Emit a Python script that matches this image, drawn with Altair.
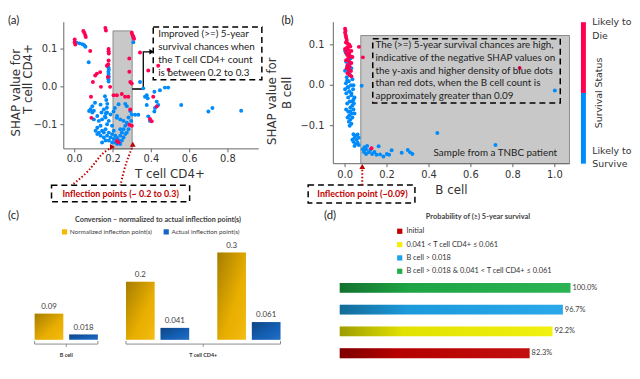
import altair as alt
import pandas as pd

W, H = 632, 371
RED, BLUE = "#ff0052", "#008bfb"
DRED = "#c00000"
AX = "#666666"
TXT = "#333333"
FONT = "DejaVu Sans"
ANN = "Lato"

# ---------------- panel (a) data: SHAP value vs T cell CD4+ ----------------
a_die = [(0.0, 0.125), (0.0, 0.118), (0.003, 0.112), (0.045, 0.148), (0.05, 0.143), (0.055, 0.137),
         (0.058, 0.132), (0.081, 0.095), (0.16, 0.156), (0.163, 0.149), (0.177, 0.1), (0.177, 0.094),
         (0.178, 0.088), (0.177, 0.07), (0.175, 0.06), (0.133, 0.039), (0.116, 0.035), (0.107, 0.03),
         (0.137, 0.0), (0.185, 0.0), (0.095, 0.013), (0.168, 0.056), (0.173, 0.026), (0.085, -0.026),
         (0.087, -0.082), (0.203, -0.022), (0.22, -0.022), (0.246, -0.019), (0.263, -0.026), (0.28, -0.026),
         (0.298, 0.143), (0.301, 0.138), (0.306, 0.133), (0.31, 0.127), (0.285, 0.075), (0.285, 0.04),
         (0.29, 0.013), (0.298, 0.009), (0.341, 0.091), (0.384, 0.043), (0.436, 0.056), (0.49, 0.045),
         (0.41, -0.026), (0.428, -0.052), (0.402, -0.091), (0.393, -0.085), (0.22, -0.143), (0.229, -0.147),
         (0.285, -0.1), (0.298, -0.103), (0.29, -0.06)]
a_survive = [(0.01, 0.117), (0.025, 0.115), (0.04, 0.113), (0.05, 0.11), (0.056, 0.106), (0.073, 0.065),
             (0.176, 0.052), (0.178, 0.046), (0.176, 0.04), (0.177, 0.034), (0.178, 0.027), (0.176, 0.02),
             (0.177, 0.014), (0.306, 0.13), (0.306, 0.118), (0.158, -0.025), (0.165, -0.035), (0.17, -0.045),
             (0.168, -0.055), (0.163, -0.07), (0.158, -0.078), (0.21, -0.056), (0.203, -0.065), (0.22, -0.082),
             (0.229, -0.046), (0.264, -0.045), (0.272, -0.051), (0.341, 0.013), (0.358, -0.004), (0.376, -0.022),
             (0.367, -0.026), (0.381, -0.03), (0.376, -0.048), (0.416, -0.013), (0.445, -0.009), (0.471, -0.002),
             (0.488, -0.002), (0.428, -0.039), (0.436, -0.048), (0.419, -0.056), (0.416, -0.065), (0.384, -0.078),
             (0.393, -0.09), (0.315, -0.074), (0.332, -0.074), (0.556, -0.048), (0.698, -0.065), (0.719, -0.056),
             (0.869, -0.063), (0.083, -0.059), (0.1, -0.063),
             (0.092, -0.051), (0.106, -0.042), (0.135, -0.047), (0.152, -0.06), (0.14, -0.068), (0.118, -0.077),
             (0.1, -0.086), (0.126, -0.09), (0.143, -0.086), (0.161, -0.081), (0.178, -0.09), (0.169, -0.099),
             (0.135, -0.103), (0.118, -0.108), (0.109, -0.116), (0.126, -0.121), (0.143, -0.116), (0.161, -0.112),
             (0.178, -0.121), (0.135, -0.129), (0.152, -0.134), (0.169, -0.129), (0.187, -0.134), (0.195, -0.125),
             (0.204, -0.138), (0.212, -0.129), (0.221, -0.135), (0.229, -0.141), (0.238, -0.129), (0.246, -0.121),
             (0.255, -0.112), (0.264, -0.103), (0.272, -0.095), (0.281, -0.081), (0.255, -0.134), (0.264, -0.125),
             (0.246, -0.142), (0.212, -0.147), (0.195, -0.147), (0.178, -0.142), (0.204, -0.116), (0.195, -0.103),
             (0.238, -0.112), (0.29, -0.064), (0.298, -0.073), (0.295, -0.09), (0.075, -0.064), (0.092, -0.068),
             (0.169, -0.068), (0.187, -0.073), (0.221, -0.077), (0.238, -0.086), (0.255, -0.09), (0.152, -0.121),
             (0.118, -0.125), (0.161, -0.142), (0.143, -0.147), (0.272, -0.121), (0.281, -0.112), (0.221, -0.151),
             (0.238, -0.151)]
a_xticks = [0.0, 0.2, 0.4, 0.6, 0.8]
a_yticks = [-0.1, 0.0, 0.1]

# ---------------- panel (b) data: SHAP value vs B cell ----------------
b_die = [(0.0, 0.14), (0.002, 0.135), (0.0, 0.13), (0.003, 0.124), (0.005, 0.118), (0.008, 0.112),
         (0.004, 0.106), (0.012, 0.104), (0.02, 0.1), (0.025, 0.096), (0.01, 0.094), (0.0, 0.09),
         (0.015, 0.088), (0.03, 0.085), (0.005, 0.082), (0.02, 0.08), (0.01, 0.075), (0.025, 0.072),
         (0.035, 0.07), (0.015, 0.066), (0.005, 0.062), (0.02, 0.058), (0.03, 0.055), (0.012, 0.05),
         (0.022, 0.046), (0.008, 0.042), (0.018, 0.038), (0.028, 0.035), (0.012, 0.03), (0.02, 0.026),
         (0.03, 0.022), (0.066, 0.095), (0.085, 0.069), (0.126, -0.156), (0.832, 0.043)]
b_survive = [(0.0, 0.085), (0.004, 0.08), (0.018, 0.074), (0.026, 0.066), (0.005, 0.058), (0.02, 0.052),
             (0.01, 0.047), (0.03, 0.042), (0.0, 0.036), (0.015, 0.031), (0.025, 0.025), (0.008, 0.02),
             (0.035, 0.015), (0.018, 0.01), (0.004, 0.005), (0.028, 0.0), (0.012, -0.005), (0.038, -0.01),
             (0.02, -0.015), (0.006, -0.02), (0.03, -0.025), (0.015, -0.03), (0.04, -0.035), (0.022, -0.04),
             (0.01, -0.045), (0.035, -0.05), (0.025, -0.055), (0.04, -0.06), (0.015, -0.065), (0.03, -0.07),
             (0.02, -0.075), (0.035, -0.08), (0.025, -0.085), (0.018, -0.09), (0.03, -0.095), (0.022, -0.1),
             (0.005, -0.06), (0.035, -0.04), (0.03, -0.02), (0.04, 0.0), (0.012, -0.08), (0.042, -0.045),
             (0.045, -0.03), (0.045, -0.07), (0.0, -0.01), (0.01, 0.012), (0.025, -0.065), (0.015, -0.005),
             (0.04, -0.121), (0.05, -0.125), (0.06, -0.122), (0.045, -0.13), (0.055, -0.135), (0.065, -0.13),
             (0.04, -0.14), (0.05, -0.145), (0.06, -0.142), (0.035, -0.135), (0.065, -0.148), (0.045, -0.15),
             (0.093, -0.153), (0.1, -0.159), (0.113, -0.166), (0.129, -0.17), (0.16, -0.151), (0.167, -0.171),
             (0.183, -0.176), (0.199, -0.17), (0.21, -0.172), (0.222, -0.161), (0.27, -0.167), (0.299, -0.16),
             (0.31, -0.166), (0.321, -0.17), (0.085, -0.158), (0.09, -0.165), (0.1, -0.17), (0.12, -0.16),
             (0.14, -0.165), (0.15, -0.172), (0.105, -0.15), (0.44, -0.118), (0.717, -0.148), (1.0, -0.013),
             (0.079, -0.001)]
b_xticks = [0.0, 0.2, 0.4, 0.6, 0.8, 1.0]
b_yticks = [-0.1, 0.0, 0.1]

status_names = ["Likely to Die", "Likely to Survive"]

# ---------------- panel (c) data ----------------
c_groups = ["B cell", "T cell CD4+ (lower)", "T cell CD4+ (upper)"]
c_types = ["Normalized inflection point(s)", "Actual inflection point(s)"]
c_normalized = [0.09, 0.2, 0.3]
c_actual = [0.018, 0.041, 0.061]
c_norm_labels = ["0.09", "0.2", "0.3"]
c_act_labels = ["0.018", "0.041", "0.061"]

# ---------------- panel (d) data ----------------
d_categories = ["Initial", "0.041 < T cell CD4+ ≤ 0.061", "B cell > 0.018",
                "B cell > 0.018 & 0.041 < T cell CD4+ ≤ 0.061"]
d_values = [82.3, 92.2, 96.7, 100.0]
d_labels = ["82.3%", "92.2%", "96.7%", "100.0%"]
d_colors = ["#c00000", "#f0f000", "#1ea3e8", "#1fae48"]


def pts_df(die, surv):
    rows = [{"x": x, "y": y, "status": status_names[1]} for x, y in surv]
    rows += [{"x": x, "y": y, "status": status_names[0]} for x, y in die]
    return pd.DataFrame(rows)


def XQ(field, sx):
    return alt.X(field, scale=sx, axis=None)


def YQ(field, sy):
    return alt.Y(field, scale=sy, axis=None)


def rect_layer(df, sx, sy, **mk):
    return alt.Chart(df).mark_rect(**mk).encode(
        x=XQ("x0:Q", sx), x2="x1:Q", y=YQ("y0:Q", sy), y2="y1:Q")


def text_layer(df, sx, sy, **mk):
    return alt.Chart(df).mark_text(**mk).encode(x=XQ("x:Q", sx), y=YQ("y:Q", sy), text="t:N")


def axes(sx, sy, xdom, ydom, xticks, yticks, xtitle, ytitles, xlab_off, ylab_off, xtitle_dx, xtitle_off,
         ytitle_pos):
    """Spines, ticks, tick labels and titles drawn through the panel's own scales."""
    x0, x1 = xdom
    y0, y1 = ydom
    spine_b = alt.Chart(pd.DataFrame({"a": [x0], "b": [x1], "y": [y0]})).mark_rule(
        color=AX, strokeWidth=1).encode(x=XQ("a:Q", sx), x2="b:Q", y=YQ("y:Q", sy))
    spine_l = alt.Chart(pd.DataFrame({"x": [x0], "a": [y0], "b": [y1]})).mark_rule(
        color=AX, strokeWidth=1).encode(x=XQ("x:Q", sx), y=YQ("a:Q", sy), y2="b:Q")
    dfx = pd.DataFrame({"v": xticks, "y": [y0] * len(xticks)})
    dfy = pd.DataFrame({"v": yticks, "x": [x0] * len(yticks)})
    tick_x = alt.Chart(dfx).mark_rule(color=AX, strokeWidth=1, y2Offset=3.5).encode(
        x=XQ("v:Q", sx), y=YQ("y:Q", sy), y2="y:Q")
    tick_y = alt.Chart(dfy).mark_rule(color=AX, strokeWidth=1, x2Offset=-3.5).encode(
        y=YQ("v:Q", sy), x=XQ("x:Q", sx), x2="x:Q")
    lab_x = alt.Chart(dfx).mark_text(font=FONT, fontSize=10, color=TXT, baseline="middle",
                                     align="center", yOffset=xlab_off).encode(
        x=XQ("v:Q", sx), y=YQ("y:Q", sy), text=alt.Text("v:Q", format=".1f"))
    lab_y = alt.Chart(dfy).mark_text(font=FONT, fontSize=10, color=TXT, baseline="middle",
                                     align="right", xOffset=ylab_off).encode(
        x=XQ("x:Q", sx), y=YQ("v:Q", sy), text=alt.Text("v:Q", format=".1f"))
    t_x = alt.Chart(pd.DataFrame({"x": [(x0 + x1) / 2], "y": [y0], "t": [xtitle]})).mark_text(
        font=FONT, fontSize=12, color=TXT, baseline="middle", align="center", xOffset=xtitle_dx,
        yOffset=xtitle_off).encode(x=XQ("x:Q", sx), y=YQ("y:Q", sy), text="t:N")
    layers = [spine_b, spine_l, tick_x, tick_y, lab_x, lab_y, t_x]
    for line, (dx, dy) in zip(ytitles, ytitle_pos):
        layers.append(alt.Chart(pd.DataFrame({"x": [x0], "y": [(y0 + y1) / 2], "t": [line]})).mark_text(
            font=FONT, fontSize=12, color=TXT, baseline="middle", align="center", angle=270,
            xOffset=dx, yOffset=dy).encode(x=XQ("x:Q", sx), y=YQ("y:Q", sy), text="t:N"))
    return layers


status_color = alt.Scale(domain=status_names, range=[RED, BLUE])

# ======================= panel (a) =======================
a_xdom, a_ydom = [-0.057, 0.961], [-0.164, 0.171]
sxa = alt.Scale(domain=a_xdom, range=[56.5, 254], nice=False, zero=False)
sya = alt.Scale(domain=a_ydom, range=[140.3, 12], nice=False, zero=False)

a_gray = rect_layer(pd.DataFrame({"x0": [0.2], "x1": [0.3], "y0": [-0.164], "y1": [0.148]}), sxa, sya,
                    fill="#c8c8c8", stroke="#8a8a8a", strokeWidth=1)
a_box = rect_layer(pd.DataFrame({"x0": [0.41], "x1": [0.977], "y0": [0.0188], "y1": [0.158]}), sxa, sya,
                   fill="white", stroke="black", strokeWidth=1.5, strokeDash=[6, 4])
a_bracket = alt.Chart(pd.DataFrame({"x": [0.3, 0.358, 0.358, 0.402], "y": [-0.0057, -0.0057, 0.0927, 0.0927],
                                    "i": [0, 1, 2, 3]})).mark_line(color="black", strokeWidth=1.3).encode(
    x=XQ("x:Q", sxa), y=YQ("y:Q", sya), order="i:O")
a_bracket_head = alt.Chart(pd.DataFrame({"x": [0.402], "y": [0.0927]})).mark_point(
    shape="triangle-right", filled=True, color="black", size=30, opacity=1).encode(
    x=XQ("x:Q", sxa), y=YQ("y:Q", sya))
a_points = alt.Chart(pts_df(a_die, a_survive)).mark_circle(size=16, opacity=1).encode(
    x=XQ("x:Q", sxa), y=YQ("y:Q", sya),
    color=alt.Color("status:N", scale=status_color, legend=None))
a_text = text_layer(pd.DataFrame({
    "x": [0.436] * 4, "y": [0.139, 0.104, 0.071, 0.036],
    "t": ["Improved (>=) 5-year", "survival chances when", "the T cell CD4+ count", "is between  0.2 to 0.3"]}),
    sxa, sya, align="left", baseline="middle", font=ANN, fontSize=10, color="#222222")
a_arrows = alt.Chart(pd.DataFrame({
    "arrow": [1, 1, 1, 1, 1, 2, 2, 2, 2, 2],
    "i": [0, 1, 2, 3, 4, 0, 1, 2, 3, 4],
    "x": [-0.02, 0.064, 0.109, 0.142, 0.19, 0.238, 0.255, 0.272, 0.295, 0.302],
    "y": [-0.262, -0.228, -0.199, -0.176, -0.161, -0.262, -0.225, -0.195, -0.168, -0.156]})).mark_line(
    color=DRED, strokeWidth=2, strokeDash=[1.5, 2], interpolate="basis").encode(
    x=XQ("x:Q", sxa), y=YQ("y:Q", sya), detail="arrow:N", order="i:O")
a_heads = alt.Chart(pd.DataFrame({"x": [0.197, 0.303], "y": [-0.159, -0.152],
                                  "shape": ["triangle-right", "triangle-up"]})).mark_point(
    filled=True, color=DRED, size=35, opacity=1).encode(
    x=XQ("x:Q", sxa), y=YQ("y:Q", sya), shape=alt.Shape("shape:N", scale=None))
a_infl_box = rect_layer(pd.DataFrame({"x0": [-0.121], "x1": [0.6], "y0": [-0.304], "y1": [-0.26]}), sxa, sya,
                        fill="white", stroke="black", strokeWidth=1.5, strokeDash=[6, 4])
a_infl_text = text_layer(pd.DataFrame({"x": [0.24], "y": [-0.283], "t": ["Inflection points (~ 0.2 to 0.3)"]}),
                         sxa, sya, align="center", baseline="middle", font=ANN, fontSize=9,
                         fontWeight="bold", color=DRED)
a_axes = axes(sxa, sya, a_xdom, a_ydom, a_xticks, a_yticks, "T cell CD4+", ["SHAP value for", "T cell CD4+"],
              xlab_off=10.2, ylab_off=-6.5, xtitle_dx=8.7, xtitle_off=26,
              ytitle_pos=[(-48.5, 7.3), (-36.5, -6.6)])

panel_a = alt.layer(a_gray, a_box, a_bracket, a_bracket_head, *a_axes, a_points, a_text,
                    a_arrows, a_heads, a_infl_box, a_infl_text)

# ======================= panel (b) =======================
b_xdom, b_ydom = [-0.056, 1.07], [-0.194, 0.156]
sxb = alt.Scale(domain=b_xdom, range=[329.5, 568.7], nice=False, zero=False)
syb = alt.Scale(domain=b_ydom, range=[155.3, 12], nice=False, zero=False)

b_gray = rect_layer(pd.DataFrame({"x0": [0.075], "x1": [1.07], "y0": [-0.194], "y1": [0.123]}), sxb, syb,
                    fill="#c8c8c8", stroke="#8a8a8a", strokeWidth=1)
b_box = rect_layer(pd.DataFrame({"x0": [0.132], "x1": [1.026], "y0": [-0.0437], "y1": [0.115]}), sxb, syb,
                   fillOpacity=0, stroke="black", strokeWidth=1.5, strokeDash=[6, 4])
b_points = alt.Chart(pts_df(b_die, b_survive)).mark_circle(size=16, opacity=1).encode(
    x=XQ("x:Q", sxb), y=YQ("y:Q", syb),
    color=alt.Color("status:N", scale=status_color, legend=None))
b_text = text_layer(pd.DataFrame({
    "x": [0.145] * 5, "y": [0.0988, 0.0678, 0.0361, 0.0044, -0.0273],
    "t": ["The (>=) 5-year survival chances are high,", "indicative of the negative SHAP values on",
          "the y-axis and higher density of blue dots", "than red dots, when the B cell count is",
          "approximately greater than 0.09"]}),
    sxb, syb, align="left", baseline="middle", font=ANN, fontSize=10, color="#222222")
b_sample = text_layer(pd.DataFrame({"x": [0.422], "y": [-0.167], "t": ["Sample from a TNBC patient"]}),
                      sxb, syb, align="left", baseline="middle", font=ANN, fontSize=10, color="#222222")
b_arrow = alt.Chart(pd.DataFrame({"x": [0.082, 0.082], "y": [-0.247, -0.205], "i": [0, 1]})).mark_line(
    color=DRED, strokeWidth=2, strokeDash=[1.5, 2]).encode(
    x=XQ("x:Q", sxb), y=YQ("y:Q", syb), order="i:O")
b_head = alt.Chart(pd.DataFrame({"x": [0.082], "y": [-0.201]})).mark_point(
    shape="triangle-up", filled=True, color=DRED, size=35, opacity=1).encode(
    x=XQ("x:Q", sxb), y=YQ("y:Q", syb))
b_infl_box = rect_layer(pd.DataFrame({"x0": [-0.176], "x1": [0.333], "y0": [-0.291], "y1": [-0.247]}), sxb, syb,
                        fill="white", stroke="black", strokeWidth=1.5, strokeDash=[6, 4])
b_infl_text = text_layer(pd.DataFrame({"x": [0.083], "y": [-0.27], "t": ["Inflection point (~0.09)"]}),
                         sxb, syb, align="center", baseline="middle", font=ANN, fontSize=9,
                         fontWeight="bold", color=DRED)
b_axes = axes(sxb, syb, b_xdom, b_ydom, b_xticks, b_yticks, "B cell", ["SHAP value for", "B cell"],
              xlab_off=11.7, ylab_off=-9, xtitle_dx=0, xtitle_off=26.7,
              ytitle_pos=[(-62, 8.3), (-47, 0)])

panel_b = alt.layer(b_gray, b_box, *b_axes, b_points, b_text, b_sample, b_infl_box, b_arrow, b_head,
                    b_infl_text)

# ======================= colour bar =======================
sxcb = alt.Scale(domain=[0, 1], range=[580.3, 585.3], nice=False, zero=False)
sycb = alt.Scale(domain=[0, 1], range=[155.3, 12], nice=False, zero=False)
cb_rect = alt.Chart(pd.DataFrame({"x0": [0, 0], "x1": [1, 1], "y0": [0, 0.5], "y1": [0.5, 1],
                                  "status": [status_names[1], status_names[0]]})).mark_rect().encode(
    x=XQ("x0:Q", sxcb), x2="x1:Q", y=YQ("y0:Q", sycb), y2="y1:Q",
    color=alt.Color("status:N", scale=status_color, legend=None))
cb_text = text_layer(pd.DataFrame({"x": [2.3, 2.3, 2.3, 2.3], "y": [1.0, 0.9, 0.09, -0.005],
                                   "t": ["Likely to", "Die", "Likely to", "Survive"]}),
                     sxcb, sycb, align="left", baseline="middle", font=FONT, fontSize=9.5, color=TXT)
cb_title = text_layer(pd.DataFrame({"x": [3.6], "y": [0.5], "t": ["Survival Status"]}),
                      sxcb, sycb, align="center", baseline="middle", angle=270, font=FONT,
                      fontSize=9.5, color=TXT)
panel_cb = alt.layer(cb_rect, cb_text, cb_title)

# ======================= panel (c) =======================
sxc = alt.Scale(domain=c_groups, range=[12.75, 290.25], paddingInner=0.308, paddingOuter=0.154)
sxoc = alt.Scale(domain=c_types, paddingInner=0.17, paddingOuter=0)
syc = alt.Scale(domain=[0, 0.3], range=[333.7, 245.3], nice=False, zero=False)
GAP_HALF = 14.25  # half of the gap between the two T cell groups, in px

dfc = pd.DataFrame({
    "group": c_groups + c_groups,
    "type": [c_types[0]] * 3 + [c_types[1]] * 3,
    "value": c_normalized + c_actual,
    "label": c_norm_labels + c_act_labels})

c_enc = dict(x=alt.X("group:N", scale=sxc, axis=None),
             xOffset=alt.XOffset("type:N", scale=sxoc),
             y=alt.Y("value:Q", scale=syc, axis=None))
c_bars = alt.Chart(dfc).mark_bar().encode(
    color=alt.Color("type:N", scale=alt.Scale(domain=c_types, range=["#f5b800", "#1565c0"]),
                    legend=alt.Legend(orient="none", legendX=54, legendY=221, direction="horizontal",
                                      title=None, symbolType="square", symbolSize=28, symbolStrokeWidth=0,
                                      labelFont=ANN, labelFontSize=6.5, labelColor="#404040",
                                      columnPadding=11, labelOffset=2, padding=0)),
    **c_enc)
c_shade = alt.Chart(dfc).mark_bar(fill=alt.Gradient(
    gradient="linear", x1=0, y1=0, x2=1, y2=1,
    stops=[alt.GradientStop(color="rgba(0,0,0,0.32)", offset=0),
           alt.GradientStop(color="rgba(0,0,0,0.05)", offset=0.6),
           alt.GradientStop(color="rgba(255,255,255,0.08)", offset=1)])).encode(**c_enc)
c_vals = alt.Chart(dfc).mark_text(dy=-7, font=ANN, fontSize=8, color="#404040", baseline="middle").encode(
    text="label:N", **c_enc)

dfcb = pd.DataFrame({"g0": [c_groups[0], c_groups[1]], "g1": [c_groups[0], c_groups[2]]})
c_hline = alt.Chart(dfcb).mark_rule(color="#8c8c8c", strokeWidth=1).encode(
    x=alt.X("g0:N", scale=sxc, bandPosition=0, axis=None), x2=alt.X2("g1:N", bandPosition=1),
    y=alt.datum(-0.0146))
c_ltick = alt.Chart(dfcb).mark_rule(color="#8c8c8c", strokeWidth=1).encode(
    x=alt.X("g0:N", scale=sxc, bandPosition=0, axis=None), y=alt.datum(-0.004), y2=alt.datum(-0.0146))
c_rtick = alt.Chart(dfcb).mark_rule(color="#8c8c8c", strokeWidth=1).encode(
    x=alt.X("g1:N", scale=sxc, bandPosition=1, axis=None), y=alt.datum(-0.004), y2=alt.datum(-0.0146))
dfb_mid = pd.DataFrame({"g": [c_groups[0]], "t": ["B cell"]})
dft_mid = pd.DataFrame({"g": [c_groups[1]], "t": ["T cell CD4+"]})
c_mid_b = alt.Chart(dfb_mid).mark_rule(color="#8c8c8c", strokeWidth=1).encode(
    x=alt.X("g:N", scale=sxc, bandPosition=0.5, axis=None), y=alt.datum(-0.0146), y2=alt.datum(-0.024))
c_mid_t = alt.Chart(dft_mid).mark_rule(color="#8c8c8c", strokeWidth=1, xOffset=GAP_HALF).encode(
    x=alt.X("g:N", scale=sxc, bandPosition=1, axis=None), y=alt.datum(-0.0146), y2=alt.datum(-0.024))
c_lab_b = alt.Chart(dfb_mid).mark_text(font=ANN, fontSize=5.5, fontWeight="bold", color="#333333").encode(
    x=alt.X("g:N", scale=sxc, bandPosition=0.5, axis=None), y=alt.datum(-0.052), text="t:N")
c_lab_t = alt.Chart(dft_mid).mark_text(font=ANN, fontSize=5.5, fontWeight="bold", color="#333333",
                                       xOffset=GAP_HALF).encode(
    x=alt.X("g:N", scale=sxc, bandPosition=1, axis=None), y=alt.datum(-0.052), text="t:N")

panel_c = alt.layer(c_bars, c_shade, c_vals, c_hline, c_ltick, c_rtick, c_mid_b, c_mid_t, c_lab_b, c_lab_t)

# ======================= panel (d) =======================
sxd = alt.Scale(domain=[0, 100], range=[336, 569.7], nice=False, zero=False)
syd = alt.Scale(domain=list(reversed(d_categories)), range=[269.95, 358.35], paddingInner=0.55,
                paddingOuter=0.275)
dfd = pd.DataFrame({"cat": d_categories, "value": d_values, "label": d_labels})
d_enc = dict(x=alt.X("value:Q", scale=sxd, axis=None), y=alt.Y("cat:N", scale=syd, axis=None))
d_bars = alt.Chart(dfd).mark_bar().encode(
    color=alt.Color("cat:N", scale=alt.Scale(domain=d_categories, range=d_colors),
                    legend=alt.Legend(orient="none", legendX=393, legendY=220, direction="vertical",
                                      title=None, symbolType="square", symbolSize=28, symbolStrokeWidth=0,
                                      labelFont=ANN, labelFontSize=7.5, labelColor="#333333",
                                      rowPadding=4.5, labelOffset=3, padding=0, labelLimit=400)),
    **d_enc)
d_shade = alt.Chart(dfd).mark_bar(fill=alt.Gradient(
    gradient="linear", x1=0, y1=0, x2=1, y2=0,
    stops=[alt.GradientStop(color="rgba(0,0,0,0.35)", offset=0),
           alt.GradientStop(color="rgba(0,0,0,0.06)", offset=0.3),
           alt.GradientStop(color="rgba(255,255,255,0.06)", offset=1)])).encode(**d_enc)
d_vals = alt.Chart(dfd).mark_text(align="left", dx=2, font=ANN, fontSize=7.5, color="#404040",
                                  baseline="middle").encode(text="label:N", **d_enc)
panel_d = alt.layer(d_bars, d_shade, d_vals)


# ======================= panel letters and titles =======================
def label(t, x, y, size=11.5, weight="normal", align="left", color="#222222"):
    return alt.Chart(pd.DataFrame({"t": [t]})).mark_text(
        align=align, baseline="middle", font=ANN, fontSize=size, fontWeight=weight, color=color).encode(
        text="t:N", x=alt.value(x), y=alt.value(y))


titles = alt.layer(
    label("(a)", 0, 10.5), label("(b)", 277, 11), label("(c)", 0, 208), label("(d)", 320, 208),
    label("Conversion – normalized to actual inflection point(s)", 152, 212, size=7.3, weight="bold",
          align="center", color="#404040"),
    label("Probability of (≥) 5-year survival", 476, 209, size=7.5, weight="bold",
          align="center", color="#404040"))

chart = alt.layer(panel_a, panel_b, panel_cb, panel_c, panel_d, titles).resolve_scale(
    x="independent", y="independent", color="independent", xOffset="independent", shape="independent"
).properties(
    width=W, height=H, padding=0, autosize=alt.AutoSizeParams(type="none"), background="white"
).configure_view(stroke=None)

chart.save("out.html", embed_options={"renderer": "svg", "actions": False})
